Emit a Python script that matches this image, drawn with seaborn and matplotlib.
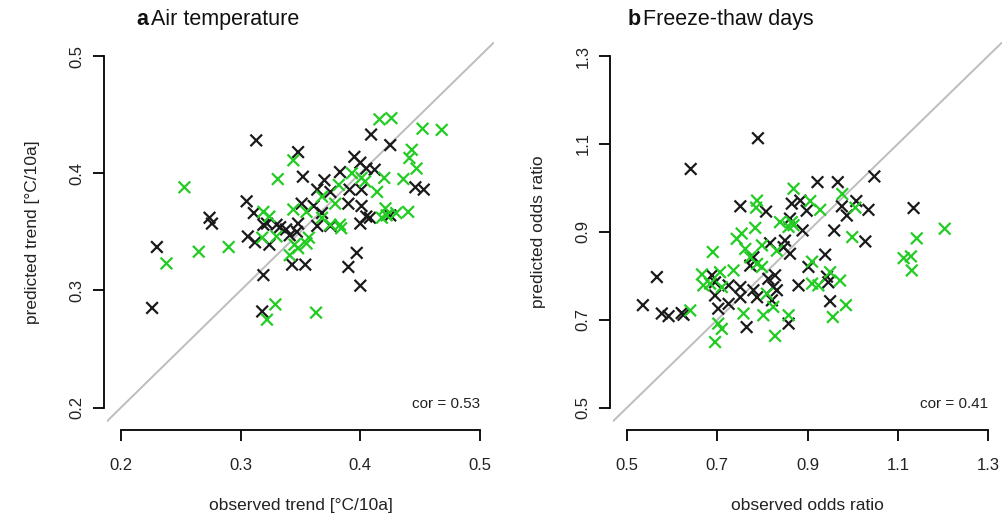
import numpy as np
import pandas as pd
import seaborn as sns
import matplotlib.pyplot as plt

# --- panel a: air temperature trends [°C/10a] ---
air_black_obs = [0.230, 0.226, 0.274, 0.276, 0.306, 0.312, 0.319, 0.318, 0.313, 0.348,
                 0.352, 0.305, 0.311, 0.319, 0.330, 0.338, 0.324, 0.409, 0.425, 0.395,
                 0.400, 0.405, 0.412, 0.446, 0.453, 0.370, 0.383, 0.364, 0.375, 0.391,
                 0.401, 0.351, 0.390, 0.401, 0.361, 0.368, 0.425, 0.405, 0.408, 0.400,
                 0.348, 0.364, 0.375, 0.333, 0.341, 0.322, 0.347, 0.343, 0.354, 0.397,
                 0.390, 0.400]
air_black_pred = [0.337, 0.285, 0.362, 0.357, 0.346, 0.341, 0.313, 0.282, 0.428, 0.418,
                  0.397, 0.376, 0.366, 0.356, 0.356, 0.352, 0.339, 0.433, 0.424, 0.414,
                  0.409, 0.404, 0.403, 0.388, 0.386, 0.394, 0.401, 0.386, 0.384, 0.386,
                  0.386, 0.374, 0.374, 0.372, 0.372, 0.366, 0.364, 0.363, 0.362, 0.357,
                  0.357, 0.355, 0.355, 0.354, 0.347, 0.357, 0.350, 0.322, 0.322, 0.332,
                  0.320, 0.304]
air_green_obs = [0.238, 0.265, 0.290, 0.318, 0.322, 0.253, 0.344, 0.331, 0.319, 0.324,
                 0.330, 0.416, 0.426, 0.452, 0.468, 0.443, 0.441, 0.447, 0.420, 0.436,
                 0.393, 0.401, 0.404, 0.368, 0.382, 0.414, 0.379, 0.344, 0.355, 0.421,
                 0.430, 0.440, 0.418, 0.422, 0.368, 0.375, 0.383, 0.384, 0.345, 0.355,
                 0.357, 0.341, 0.348, 0.329, 0.363]
air_green_pred = [0.323, 0.333, 0.337, 0.345, 0.275, 0.388, 0.411, 0.395, 0.367, 0.363,
                  0.346, 0.446, 0.447, 0.438, 0.437, 0.420, 0.413, 0.404, 0.396, 0.395,
                  0.400, 0.396, 0.393, 0.380, 0.390, 0.384, 0.374, 0.369, 0.367, 0.370,
                  0.366, 0.367, 0.362, 0.364, 0.362, 0.356, 0.356, 0.353, 0.339, 0.340,
                  0.345, 0.330, 0.336, 0.288, 0.281]

# --- panel b: freeze-thaw days odds ratios ---
ftd_black_obs = [0.641, 0.790, 0.751, 0.808, 0.865, 0.861, 0.817, 0.850, 0.861, 0.780,
                 0.773, 0.688, 0.566, 0.695, 0.725, 0.751, 0.695, 0.780, 0.788, 0.751,
                 0.813, 0.828, 0.824, 0.832, 0.880, 0.821, 0.702, 0.725, 0.535, 0.577,
                 0.592, 0.621, 0.625, 0.765, 0.858, 0.922, 0.967, 1.048, 1.008, 0.884,
                 0.898, 0.976, 0.987, 1.035, 1.135, 0.959, 1.028, 0.939, 0.902, 0.943,
                 0.946, 0.950, 0.889, 0.847]
ftd_black_pred = [1.043, 1.113, 0.958, 0.946, 0.964, 0.930, 0.874, 0.880, 0.850, 0.842,
                  0.823, 0.801, 0.797, 0.785, 0.778, 0.774, 0.755, 0.767, 0.751, 0.751,
                  0.793, 0.801, 0.774, 0.767, 0.778, 0.744, 0.725, 0.736, 0.733, 0.714,
                  0.708, 0.715, 0.711, 0.683, 0.691, 1.013, 1.013, 1.026, 0.970, 0.971,
                  0.948, 0.958, 0.937, 0.950, 0.954, 0.903, 0.878, 0.848, 0.820, 0.798,
                  0.785, 0.742, 0.903, 0.865]
ftd_green_obs = [0.690, 0.788, 0.786, 0.869, 0.839, 0.865, 0.784, 0.743, 0.754, 0.762,
                 0.799, 0.832, 0.773, 0.788, 0.799, 0.736, 0.706, 0.666, 0.669, 0.684,
                 0.710, 0.810, 0.824, 0.640, 0.702, 0.710, 0.695, 0.758, 0.802, 0.828,
                 0.858, 0.977, 0.906, 0.928, 1.006, 1.204, 0.999, 1.142, 1.113, 1.129,
                 1.131, 0.910, 0.950, 0.972, 0.910, 0.924, 0.985, 0.956, 0.858, 0.869]
ftd_green_pred = [0.854, 0.971, 0.955, 0.998, 0.922, 0.922, 0.909, 0.884, 0.896, 0.861,
                  0.869, 0.857, 0.842, 0.827, 0.820, 0.812, 0.808, 0.803, 0.778, 0.782,
                  0.774, 0.759, 0.729, 0.721, 0.691, 0.679, 0.649, 0.714, 0.710, 0.663,
                  0.710, 0.986, 0.970, 0.950, 0.955, 0.907, 0.888, 0.885, 0.840, 0.844,
                  0.812, 0.832, 0.808, 0.789, 0.782, 0.778, 0.733, 0.706, 0.911, 0.915]

air_ticks = [0.2, 0.3, 0.4, 0.5]
ftd_ticks = [0.5, 0.7, 0.9, 1.1, 1.3]
cor_values = [0.53, 0.41]
panel_letters = ["a", "b"]
panel_titles = ["Air temperature", "Freeze-thaw days"]
x_labels = ["observed trend [°C/10a]", "observed odds ratio"]
y_labels = ["predicted trend [°C/10a]", "predicted odds ratio"]

COLORS = {"black": "#1a1a1a", "green": "#22cc22"}

sns.set_theme(style="ticks")
plt.rcParams["font.family"] = ["Liberation Sans", "DejaVu Sans"]


def make_frame(bo, bp, go, gp):
    df_b = pd.DataFrame({"obs": bo, "pred": bp, "group": "black"})
    df_g = pd.DataFrame({"obs": go, "pred": gp, "group": "green"})
    return pd.concat([df_b, df_g], ignore_index=True)


frames = [make_frame(air_black_obs, air_black_pred, air_green_obs, air_green_pred),
          make_frame(ftd_black_obs, ftd_black_pred, ftd_green_obs, ftd_green_pred)]
tick_sets = [air_ticks, ftd_ticks]

fig = plt.figure(figsize=(10.05, 5.19), dpi=100)
axes = [fig.add_axes([0.1061, 0.1877, 0.3858, 0.7314]),
        fig.add_axes([0.6096, 0.1877, 0.3879, 0.7314])]

for i, ax in enumerate(axes):
    df = frames[i]
    ticks = tick_sets[i]
    lo, hi = ticks[0], ticks[-1]
    pad = 0.04 * (hi - lo)

    ax.axline((lo, lo), (hi, hi), color="#bdbdbd", lw=1.4, zorder=1)
    sns.scatterplot(data=df, x="obs", y="pred", hue="group", palette=COLORS,
                    marker="x", s=70, linewidth=1.6, legend=False, ax=ax, zorder=3)

    # R-style detached axes (spines first, ticks afterwards)
    sns.despine(ax=ax)
    ax.spines["bottom"].set_position(("outward", 6))
    ax.spines["left"].set_position(("outward", 2))
    for sp in ("left", "bottom"):
        ax.spines[sp].set_linewidth(1.3)
        ax.spines[sp].set_color("black")

    ax.set_xlim(lo - pad, hi + pad)
    ax.set_ylim(lo - pad, hi + pad)
    ax.set_xticks(ticks)
    ax.set_yticks(ticks)
    ax.set_xticklabels([f"{t:.1f}" for t in ticks])
    ax.set_yticklabels([f"{t:.1f}" for t in ticks], rotation=90, va="center")
    ax.spines["left"].set_bounds(lo, hi)
    ax.spines["bottom"].set_bounds(lo, hi)

    ax.tick_params(axis="both", length=8, width=1.3, color="black",
                   labelsize=12, labelcolor="#222222")
    ax.tick_params(axis="x", pad=12)
    ax.tick_params(axis="y", pad=6)

    ax.set_xlabel(x_labels[i], fontsize=12.5, color="#222222")
    ax.set_ylabel(y_labels[i], fontsize=12.5, color="#222222")
    ax.xaxis.set_label_coords(0.5, -0.2)
    ax.yaxis.set_label_coords(-0.172, 0.5)

    ax.text(hi, lo + 0.01 * (hi - lo), f"cor = {cor_values[i]:.2f}", ha="right",
            va="center", fontsize=11, color="#222222")

    tx = 0.078 if i == 0 else 0.0395
    ax.text(tx, 1.058, panel_letters[i], transform=ax.transAxes, fontsize=15.5,
            fontweight="bold", va="center", ha="left", color="#111111")
    ax.text(tx + 0.036 if i == 0 else tx + 0.0395, 1.058, panel_titles[i],
            transform=ax.transAxes, fontsize=15.5, va="center", ha="left",
            color="#111111")

fig.savefig("out.png", dpi=100)
